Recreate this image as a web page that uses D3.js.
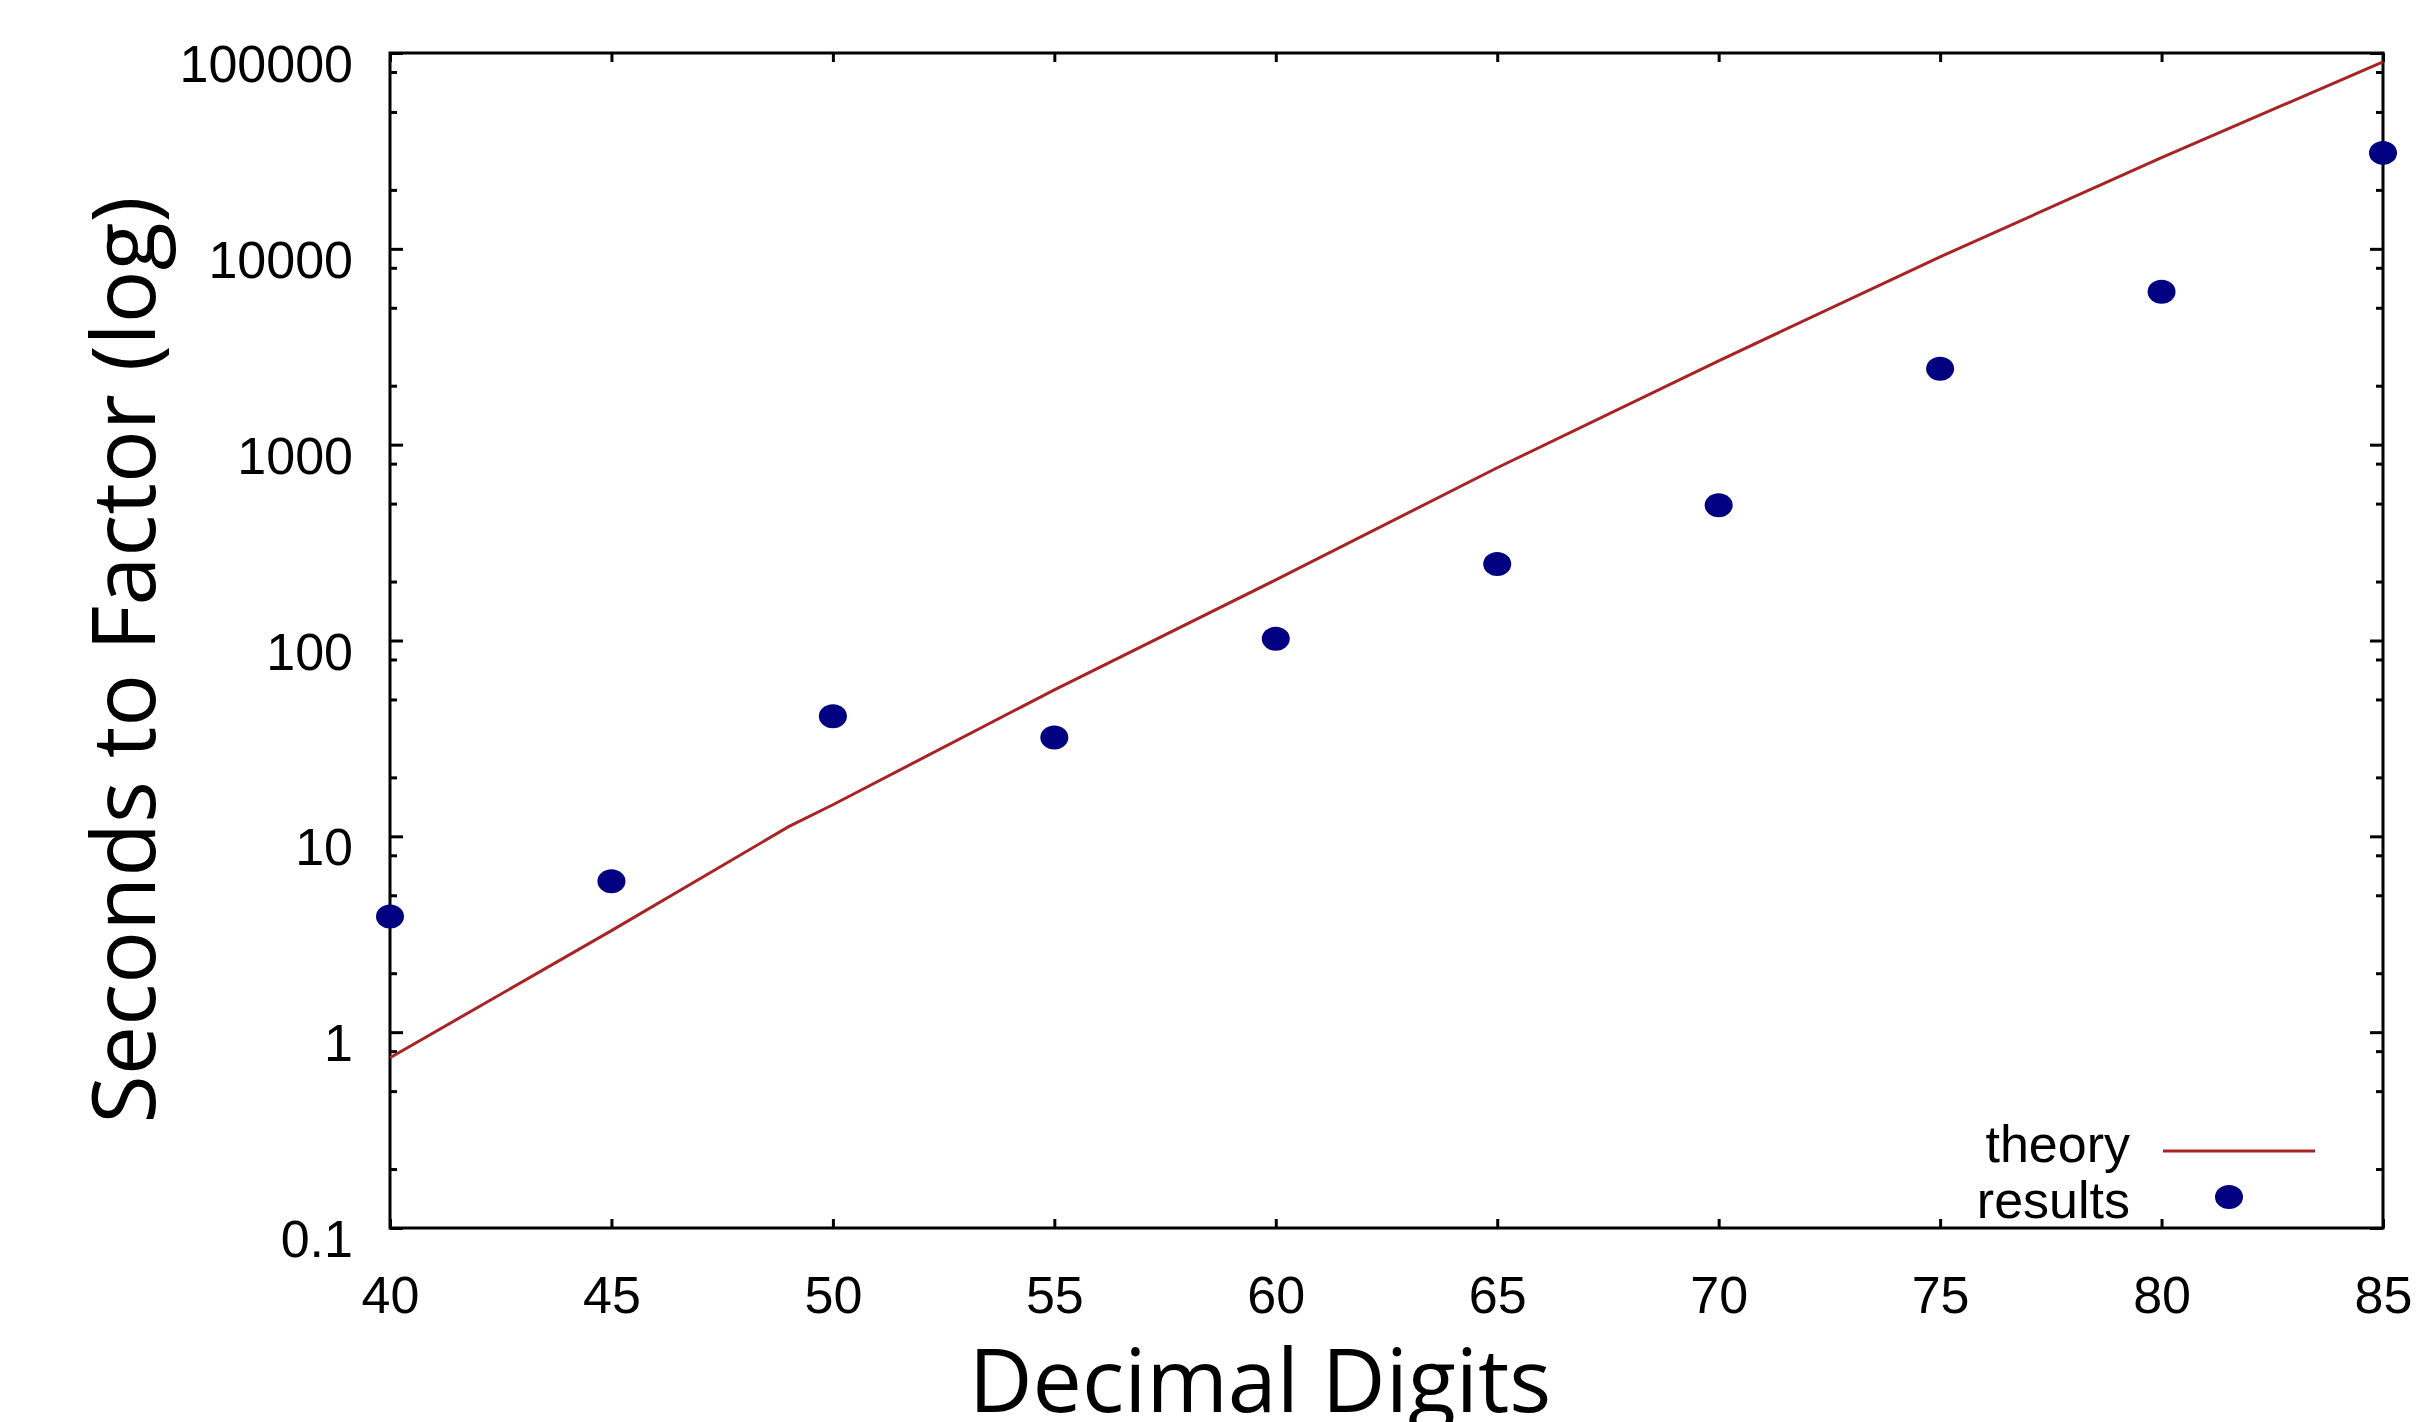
<!DOCTYPE html>
<html>
<head>
<meta charset="utf-8">
<title>Seconds to Factor</title>
<script src="https://cdn.jsdelivr.net/npm/d3@7"></script>
<style>
  html, body { margin: 0; padding: 0; background: #fff; }
  svg { display: block; }
  .tick-label { font-family: "Liberation Sans", Arial, sans-serif; font-size: 52px; fill: #000; }
  .axis-title { font-family: "Open Sans", "Noto Sans", sans-serif; font-size: 88px; fill: #000; }
</style>
</head>
<body>
<div id="chart"></div>
<script>
// values
const digits = [40, 45, 50, 55, 60, 65, 70, 75, 80, 85];
const resultSeconds = [3.9, 5.9, 41, 32, 102, 246, 490, 2440, 6030, 30900];

const theoryDigits = [40, 45, 49, 50, 55, 60, 65, 70, 75, 80, 85];
const theorySeconds = [0.74, 3.3, 11.2, 14.5, 56, 204, 762, 2680, 9100, 29200, 90200];

const xTicks = [40, 45, 50, 55, 60, 65, 70, 75, 80, 85];
const yTicks = [0.1, 1, 10, 100, 1000, 10000, 100000];
const yTickLabels = ["0.1", "1", "10", "100", "1000", "10000", "100000"];
const yMinorTicks = [0.2, 0.5, 0.8, 2, 5, 8, 20, 50, 80, 200, 500, 800,
  2000, 5000, 8000, 20000, 50000, 80000];

const legendItems = ["theory", "results"];

const width = 2424;
const height = 1422;
const margin = { top: 53, right: 41, bottom: 194, left: 390 };
const innerW = width - margin.left - margin.right;
const innerH = height - margin.top - margin.bottom;

const lineColor = "#a82424";
const dotColor = "#000080";

const svg = d3.select("#chart")
  .append("svg")
  .attr("width", width)
  .attr("height", height)
  .attr("viewBox", `0 0 ${width} ${height}`);

svg.append("rect")
  .attr("width", width)
  .attr("height", height)
  .attr("fill", "#fff");

const g = svg.append("g")
  .attr("transform", `translate(${margin.left},${margin.top})`);

const x = d3.scaleLinear().domain([40, 85]).range([0, innerW]);
const y = d3.scaleLog().domain([0.1, 100000]).range([innerH, 0]);

// ---- axes: ticks point inward on all four sides ----
function styleAxis(sel) {
  sel.select(".domain").remove();
  sel.selectAll("line").attr("stroke", "#000").attr("stroke-width", 3);
}

const labelFor = new Map(yTicks.map((v, i) => [v, yTickLabels[i]]));

const yAxisG = g.append("g")
  .call(d3.axisLeft(y).tickValues(yTicks).tickSize(-13).tickPadding(37)
    .tickFormat(d => labelFor.get(d)));
styleAxis(yAxisG);
yAxisG.selectAll("text").attr("class", "tick-label").attr("dy", "0.55em")
  .attr("font-size", null).attr("font-family", null);

g.append("g")
  .call(d3.axisLeft(y).tickValues(yMinorTicks).tickSize(-7).tickFormat(""))
  .call(styleAxis);

g.append("g")
  .attr("transform", `translate(${innerW},0)`)
  .call(d3.axisRight(y).tickValues(yTicks).tickSize(-13).tickFormat(""))
  .call(styleAxis);

g.append("g")
  .attr("transform", `translate(${innerW},0)`)
  .call(d3.axisRight(y).tickValues(yMinorTicks).tickSize(-7).tickFormat(""))
  .call(styleAxis);

const xAxisG = g.append("g")
  .attr("transform", `translate(0,${innerH})`)
  .call(d3.axisBottom(x).tickValues(xTicks).tickSize(-9).tickPadding(48)
    .tickFormat(d3.format("d")));
styleAxis(xAxisG);
xAxisG.selectAll("text").attr("class", "tick-label")
  .attr("font-size", null).attr("font-family", null);

g.append("g")
  .call(d3.axisTop(x).tickValues(xTicks).tickSize(-9).tickFormat(""))
  .call(styleAxis);

// frame
g.append("rect")
  .attr("width", innerW)
  .attr("height", innerH)
  .attr("fill", "none")
  .attr("stroke", "#000")
  .attr("stroke-width", 3);

// ---- theory line ----
const theory = theoryDigits.map((d, i) => ({ d, s: theorySeconds[i] }));
g.append("path")
  .datum(theory)
  .attr("fill", "none")
  .attr("stroke", lineColor)
  .attr("stroke-width", 3)
  .attr("d", d3.line().x(p => x(p.d)).y(p => y(p.s)));

// ---- results dots ----
const results = digits.map((d, i) => ({ d, s: resultSeconds[i] }));
g.selectAll("ellipse.result")
  .data(results)
  .join("ellipse")
  .attr("class", "result")
  .attr("cx", p => x(p.d))
  .attr("cy", p => y(p.s))
  .attr("rx", 14)
  .attr("ry", 12)
  .attr("fill", dotColor);

// ---- legend (bottom right, inside the frame) ----
const legend = svg.append("g").attr("transform", "translate(2130,1162)");
legend.selectAll("text")
  .data(legendItems)
  .join("text")
  .attr("class", "tick-label")
  .attr("text-anchor", "end")
  .attr("y", (d, i) => i * 56)
  .text(d => d);

legend.append("line")
  .attr("x1", 33).attr("x2", 185)
  .attr("y1", -11).attr("y2", -11)
  .attr("stroke", lineColor)
  .attr("stroke-width", 3);

legend.append("ellipse")
  .attr("cx", 99).attr("cy", 35)
  .attr("rx", 14).attr("ry", 12)
  .attr("fill", dotColor);

// ---- axis titles ----
svg.append("text")
  .attr("class", "axis-title")
  .attr("x", 1260)
  .attr("y", 1412)
  .attr("text-anchor", "middle")
  .text("Decimal Digits");

svg.append("text")
  .attr("class", "axis-title")
  .attr("transform", "translate(155,660) rotate(-90)")
  .attr("text-anchor", "middle")
  .text("Seconds to Factor (log)");
</script>
</body>
</html>
